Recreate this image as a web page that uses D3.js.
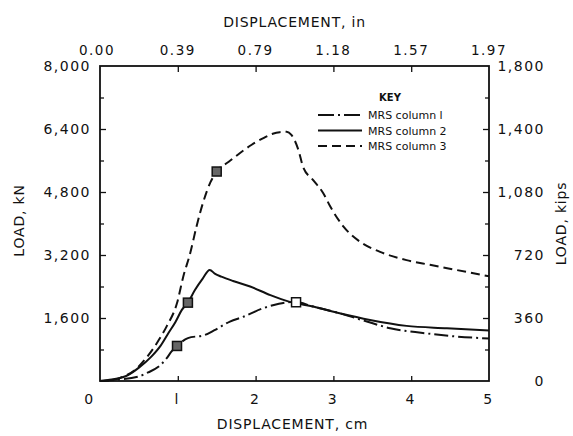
<!DOCTYPE html>
<html><head><meta charset="utf-8">
<script src="https://cdn.jsdelivr.net/npm/d3@7"></script>
<style>
html,body{margin:0;padding:0;background:#fff;}
svg{display:block;}
text{font-family:"DejaVu Sans",sans-serif;fill:#111;}
</style></head>
<body><div id="chart"></div>
<script>
// ---- data ----
const col1X = [0, 0.2, 0.49, 0.62, 0.75, 0.85, 0.92, 0.99, 1.13, 1.35, 1.48, 1.67, 1.84, 2.1, 2.3, 2.5, 2.74, 3.08, 3.43, 3.73, 4.15, 4.58, 5.0];
const col1Y = [0, 30, 110, 220, 360, 560, 750, 890, 1090, 1170, 1300, 1510, 1630, 1850, 1960, 2010, 1890, 1720, 1510, 1340, 1220, 1130, 1080];
const col2X = [0, 0.15, 0.36, 0.5, 0.66, 0.78, 0.88, 0.97, 1.05, 1.13, 1.22, 1.32, 1.41, 1.48, 1.56, 1.71, 1.93, 2.19, 2.44, 2.74, 3.08, 3.47, 3.94, 4.46, 5.0];
const col2Y = [0, 40, 150, 340, 620, 900, 1220, 1500, 1800, 1990, 2310, 2600, 2820, 2720, 2650, 2540, 2400, 2180, 2010, 1890, 1720, 1550, 1400, 1340, 1280];
const col3X = [0, 0.15, 0.3, 0.45, 0.6, 0.73, 0.86, 0.99, 1.07, 1.16, 1.24, 1.32, 1.42, 1.5, 1.65, 1.8, 1.95, 2.1, 2.22, 2.31, 2.4, 2.46, 2.55, 2.61, 2.74, 2.87, 2.96, 3.13, 3.34, 3.6, 3.94, 4.24, 4.58, 5.0];
const col3Y = [0, 20, 110, 280, 600, 960, 1400, 1980, 2650, 3250, 3920, 4500, 5050, 5320, 5560, 5790, 6000, 6170, 6280, 6320, 6330, 6250, 5870, 5440, 5100, 4770, 4430, 3920, 3540, 3280, 3070, 2950, 2820, 2660];
const seriesNames = ["MRS column l", "MRS column 2", "MRS column 3"];
const markerX = [0.99, 1.13, 1.5, 2.52];
const markerY = [890, 1990, 5320, 2000];
const markerHollow = [false, false, false, true];
const bottomTicks = [0, 1, 2, 3, 4, 5];
const topTickLabels = ["0.00", "0.39", "0.79", "1.18", "1.57", "1.97"];
const leftTicks = [1600, 3200, 4800, 6400, 8000];
const leftTickLabels = ["1,600", "3,200", "4,800", "6,400", "8,000"];
const rightTicks = [0, 360, 720, 1080, 1440, 1800];
const rightTickLabels = ["0", "360", "720", "1,080", "1,400", "1,800"];

// ---- layout ----
const W = 573, H = 436;
const m = {left: 100, right: 84, top: 66, bottom: 55};
const svg = d3.select("#chart").append("svg").attr("width", W).attr("height", H);
const x = d3.scaleLinear().domain([0, 5]).range([m.left, W - m.right]);
const y = d3.scaleLinear().domain([0, 8000]).range([H - m.bottom, m.top]);
const yR = d3.scaleLinear().domain([0, 1800]).range([H - m.bottom, m.top]);

// frame
svg.append("rect").attr("x", m.left).attr("y", m.top)
  .attr("width", x(5) - x(0)).attr("height", y(0) - y(8000))
  .attr("fill", "none").attr("stroke", "#111").attr("stroke-width", 1.8);

const ls = "2.5px";
// bottom axis
const gB = svg.append("g").attr("transform", `translate(0,${y(0)})`)
  .call(d3.axisBottom(x).tickValues([1,2,3,4]).tickSize(-5).tickFormat(""));
gB.select(".domain").remove();
gB.selectAll("line").attr("stroke", "#111").attr("stroke-width", 1.3);
svg.append("g").selectAll("text").data(bottomTicks).join("text")
  .attr("x", d => x(d) - (d === 0 ? 10 : 0)).attr("y", 404)
  .attr("text-anchor", "middle").attr("font-size", 14).style("letter-spacing", ls)
  .text(d => d === 1 ? "l" : d);
svg.append("text").attr("x", x(2.5) - 2).attr("y", 429).attr("text-anchor", "middle")
  .attr("font-size", 14).style("letter-spacing", "0.8px").text("DISPLACEMENT, cm");

// top axis
const gT = svg.append("g").attr("transform", `translate(0,${y(8000)})`)
  .call(d3.axisTop(x).tickValues([1,2,3,4]).tickSize(-6).tickFormat(""));
gT.select(".domain").remove();
gT.selectAll("line").attr("stroke", "#111").attr("stroke-width", 1.3);
svg.append("g").selectAll("text").data(bottomTicks).join("text")
  .attr("x", d => x(d) - (d === 0 ? 3 : 0)).attr("y", 55)
  .attr("text-anchor", "middle").attr("font-size", 13.5).style("letter-spacing", "1.5px")
  .text((d, i) => topTickLabels[i]);
svg.append("text").attr("x", x(2.5)).attr("y", 27).attr("text-anchor", "middle")
  .attr("font-size", 14).style("letter-spacing", "0.8px").text("DISPLACEMENT, in");

// left axis
const gL = svg.append("g").attr("transform", `translate(${x(0)},0)`)
  .call(d3.axisLeft(y).tickValues(d3.range(800, 8000, 800)).tickSize(0).tickFormat(""));
gL.select(".domain").remove();
gL.selectAll(".tick line").attr("x2", (d) => (d % 1600 === 0 ? 6 : 4)).attr("stroke", "#111").attr("stroke-width", 1.3);
svg.append("g").selectAll("text").data(leftTicks).join("text")
  .attr("x", 91).attr("y", d => y(d) + 5).attr("text-anchor", "end")
  .attr("font-size", 14).style("letter-spacing", "1.5px")
  .text((d, i) => leftTickLabels[i]);
svg.append("text").attr("transform", `translate(24,${y(4000) - 3}) rotate(-90)`)
  .attr("text-anchor", "middle").attr("font-size", 14).style("letter-spacing", "0.8px").text("LOAD, kN");

// right axis
const gR = svg.append("g").attr("transform", `translate(${x(5)},0)`)
  .call(d3.axisRight(yR).tickValues(d3.range(180, 1800, 180)).tickSize(0).tickFormat(""));
gR.select(".domain").remove();
gR.selectAll(".tick line").attr("x2", (d) => (d % 360 === 0 ? -6 : -4)).attr("stroke", "#111").attr("stroke-width", 1.3);
svg.append("g").selectAll("text").data(rightTicks).join("text")
  .attr("x", 545).attr("y", d => yR(d) + 5).attr("text-anchor", "end")
  .attr("font-size", 14).style("letter-spacing", "1.5px")
  .text((d, i) => rightTickLabels[i]);
svg.append("text").attr("transform", `translate(566,${yR(900)}) rotate(-90)`)
  .attr("text-anchor", "middle").attr("font-size", 14).style("letter-spacing", "0.8px").text("LOAD, kips");

// curves
const line = d3.line().x(d => x(d[0])).y(d => y(d[1])).curve(d3.curveMonotoneX);
const dashes = ["14,4,2,4", null, "9,5"];
const sets = [[col1X, col1Y], [col2X, col2Y], [col3X, col3Y]];
sets.forEach((s, i) => {
  svg.append("path").datum(s[0].map((v, j) => [v, s[1][j]]))
    .attr("d", line).attr("fill", "none").attr("stroke", "#111")
    .attr("stroke-width", 2).attr("stroke-dasharray", dashes[i]);
});

// markers
const ms = 9;
svg.append("g").selectAll("rect").data(markerX).join("rect")
  .attr("x", d => x(d) - ms / 2).attr("y", (d, i) => y(markerY[i]) - ms / 2)
  .attr("width", ms).attr("height", ms)
  .attr("fill", (d, i) => markerHollow[i] ? "#fff" : "#666")
  .attr("stroke", "#111").attr("stroke-width", 1.5);

// legend
const lg = svg.append("g");
lg.append("text").attr("x", 390).attr("y", 101).attr("text-anchor", "middle")
  .attr("font-size", 10).attr("font-weight", "bold").text("KEY");
seriesNames.forEach((n, i) => {
  const yy = 115 + i * 15.5;
  lg.append("line").attr("x1", 318).attr("x2", 362).attr("y1", yy).attr("y2", yy)
    .attr("stroke", "#111").attr("stroke-width", 2).attr("stroke-dasharray", i === 0 ? "16,4,2,4" : dashes[i]);
  lg.append("text").attr("x", 368).attr("y", yy + 4).attr("font-size", 11).text(n);
});
</script></body></html>
